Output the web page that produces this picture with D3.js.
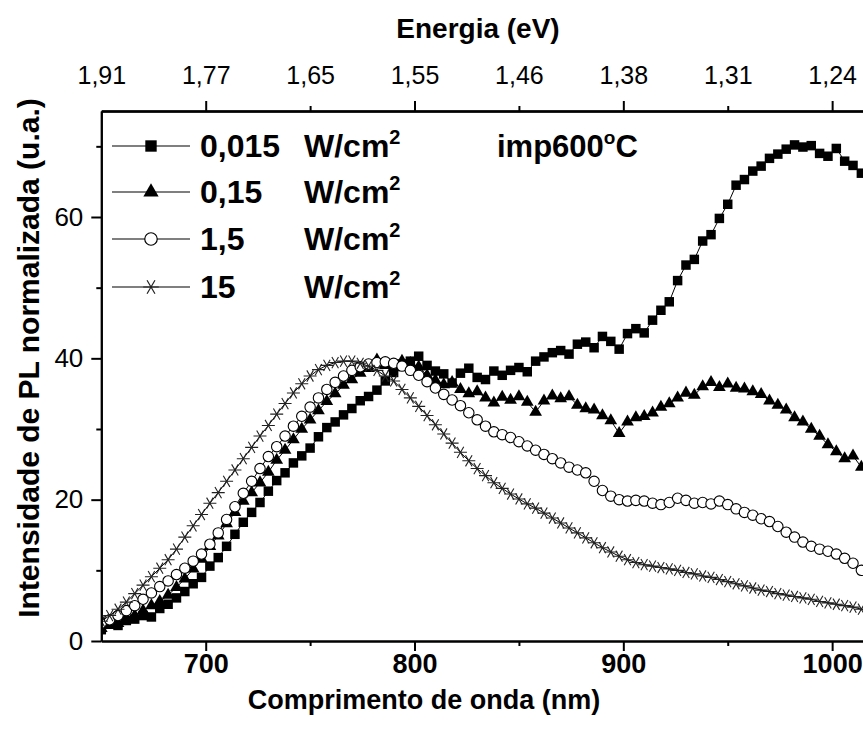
<!DOCTYPE html>
<html>
<head>
<meta charset="utf-8">
<script src="https://cdn.jsdelivr.net/npm/d3@7"></script>
<style>
body { margin: 0; background: #fff; }
svg { font-family: "Liberation Sans", Arial, sans-serif; }
.axis path, .axis line { stroke: #000; stroke-width: 2; }
.axis text { fill: #000; }
</style>
</head>
<body>
<svg width="863" height="734"></svg>
<script>
// comprimento de onda (nm)
const wl = [650,654,658,662,666,670,674,678,682,686,690,694,698,702,706,710,714,718,722,726,
  730,734,738,742,746,750,754,758,762,766,770,774,778,782,786,790,794,798,802,806,
  810,814,818,822,826,830,834,838,842,846,850,854,858,862,866,870,874,878,882,886,
  890,894,898,902,906,910,914,918,922,926,930,934,938,942,946,950,954,958,962,966,
  970,974,978,982,986,990,994,998,1002,1006,1010,1014,1018];

// 0,015 W/cm2 (quadrados)
const s0015 = [1.6,2.4,2.2,2.9,3.1,3.6,3.4,4.6,5.2,6.1,7.0,8.1,9.0,10.6,11.8,13.4,15.1,16.8,18.2,19.6,
  21.2,22.7,23.8,25.2,26.2,27.3,28.9,30.2,31.0,32.0,32.9,34.0,34.6,35.5,36.8,38.0,39.2,39.6,40.3,39.0,
  38.2,37.8,36.5,37.9,38.6,37.3,37.0,38.2,37.6,38.3,38.7,38.1,39.6,40.2,40.8,41.1,40.6,42.0,42.3,41.5,
  43.1,42.4,41.3,43.5,44.2,43.6,45.4,46.8,48.0,51.0,53.2,54.0,56.6,57.5,59.8,61.8,64.5,65.3,66.5,67.2,
  68.3,68.9,69.6,70.2,69.9,70.1,69.0,68.6,69.7,67.9,67.3,66.2,67.1];

// 0,15 W/cm2 (triangulos)
const s015 = [1.8,2.2,2.5,3.2,3.6,4.3,5.0,5.6,6.5,7.6,8.8,10.2,11.6,13.4,14.9,16.6,18.2,19.8,21.0,22.4,
  23.9,25.6,27.0,28.5,30.0,31.3,32.6,33.9,35.0,36.2,37.0,37.9,38.6,39.8,39.0,38.7,39.6,39.3,38.8,37.6,
  36.9,36.3,36.6,35.6,35.0,35.3,34.4,33.7,34.5,34.1,34.6,33.8,32.4,34.0,34.7,34.3,34.6,33.4,32.9,32.7,
  31.9,31.2,29.4,31.0,31.6,31.8,32.3,33.1,33.6,34.4,35.1,34.8,36.0,36.6,35.9,36.4,35.8,35.7,35.3,34.9,
  34.0,33.4,32.7,31.6,31.0,30.0,29.0,27.8,26.8,25.8,26.2,24.6,24.9];

// 1,5 W/cm2 (circulos)
const s15 = [2.5,3.0,3.6,4.3,5.0,5.9,6.8,7.7,8.5,9.4,10.3,11.3,12.3,13.7,15.3,17.2,19.0,20.9,22.6,24.4,
  26.1,27.5,29.0,30.4,31.8,33.1,34.4,35.6,36.6,37.5,38.3,38.8,39.2,39.4,39.5,39.3,38.9,38.3,37.6,36.7,
  35.8,34.9,34.1,33.3,32.3,31.3,30.4,29.6,29.2,28.8,28.2,27.6,27.0,26.4,25.8,25.2,24.6,24.2,23.8,22.6,
  21.3,20.5,20.0,19.8,19.9,19.8,19.5,19.3,19.6,20.2,19.9,19.5,19.6,19.4,19.8,19.3,18.7,18.2,17.8,17.3,
  16.9,16.2,15.4,14.7,14.0,13.4,13.0,12.7,12.3,11.7,11.0,10.0,9.3];

// 15 W/cm2 (estrelas)
const s150 = [2.8,3.6,4.5,5.5,6.7,7.9,9.1,10.3,11.5,13.0,14.7,16.3,17.9,19.5,21.0,22.6,24.2,25.8,27.4,29.0,
  30.5,32.1,33.6,35.1,36.4,37.5,38.4,39.0,39.4,39.6,39.6,39.3,38.9,38.3,37.5,36.8,35.6,34.4,33.2,31.9,
  30.6,29.3,28.0,26.7,25.5,24.4,23.4,22.4,21.6,20.8,20.1,19.4,18.8,18.1,17.4,16.7,16.0,15.3,14.6,13.9,
  13.2,12.6,12.0,11.5,11.1,10.8,10.6,10.4,10.2,10.0,9.7,9.5,9.2,9.0,8.7,8.4,8.1,7.8,7.5,7.2,
  7.0,6.7,6.5,6.3,6.1,5.9,5.6,5.4,5.2,5.0,4.8,4.5,4.3];

const legendValues = ["0,015", "0,15", "1,5", "15"];
const xMajor = [700, 800, 900, 1000];
const xMinor = [750, 850, 950];
const yMajor = [0, 20, 40, 60];
const yMinor = [10, 30, 50, 70];
const topNm = [650, 700, 750, 800, 850, 900, 950, 1000];
const topLabels = ["1,91", "1,77", "1,65", "1,55", "1,46", "1,38", "1,31", "1,24"];

const svg = d3.select("svg");
const x = d3.scaleLinear().domain([650, 1020]).range([101.3, 873.9]);
const y = d3.scaleLinear().domain([0, 75]).range([641, 111]);

// marcadores
const starPath = "M-6.5,0L6.5,0M-3.3,-5.6L3.3,5.6M-3.3,5.6L3.3,-5.6";
const series = [
  {vals: s0015, sym: d3.symbol(d3.symbolSquare, 90)(), fill: "#000", stroke: "none"},
  {vals: s015, sym: d3.symbol(d3.symbolTriangle, 70)(), fill: "#000", stroke: "none"},
  {vals: s15, sym: d3.symbol(d3.symbolCircle, 85)(), fill: "#fff", stroke: "#000"},
  {vals: s150, sym: starPath, fill: "none", stroke: "#222"}
];

svg.append("clipPath").attr("id", "plot")
  .append("rect").attr("x", 101).attr("y", 111).attr("width", 780).attr("height", 540);

const plot = svg.append("g").attr("clip-path", "url(#plot)");

const line = d3.line().x((d, i) => x(wl[i])).y(d => y(d));

series.forEach(s => {
  plot.append("path")
    .attr("d", line(s.vals))
    .attr("fill", "none")
    .attr("stroke", "#000")
    .attr("stroke-width", 1);
  plot.append("g").selectAll("path")
    .data(s.vals)
    .enter()
    .append("path")
    .attr("transform", (d, i) => `translate(${x(wl[i])},${y(d)})`)
    .attr("d", s.sym)
    .attr("fill", s.fill)
    .attr("stroke", s.stroke)
    .attr("stroke-width", 1.1);
});

// eixos
svg.append("g").attr("class", "axis").attr("transform", "translate(0,641)")
  .call(d3.axisBottom(x).tickValues(xMajor).tickSize(10).tickPadding(3).tickSizeOuter(0)
    .tickFormat(d3.format("d")))
  .call(g => g.selectAll("text").attr("font-size", 27).attr("font-weight", "bold"));
svg.append("g").attr("class", "axis").attr("transform", "translate(0,641)")
  .call(d3.axisBottom(x).tickValues(xMinor).tickSize(5).tickFormat("").tickSizeOuter(0));

svg.append("g").attr("class", "axis").attr("transform", "translate(101.3,0)")
  .call(d3.axisLeft(y).tickValues(yMajor).tickSize(10).tickPadding(8).tickSizeOuter(0))
  .call(g => g.selectAll("text").attr("font-size", 26));
svg.append("g").attr("class", "axis").attr("transform", "translate(101.3,0)")
  .call(d3.axisLeft(y).tickValues(yMinor).tickSize(5).tickFormat("").tickSizeOuter(0));

svg.append("g").attr("class", "axis").attr("transform", "translate(0,111)")
  .call(d3.axisTop(x).tickValues(topNm).tickSize(0).tickPadding(27).tickSizeOuter(0)
    .tickFormat((d, i) => topLabels[i]))
  .call(g => g.selectAll("text").attr("font-size", 25));
svg.append("g").attr("class", "axis").attr("transform", "translate(0,111)")
  .call(d3.axisTop(x).tickValues(xMajor).tickSize(10).tickFormat("").tickSizeOuter(0));
svg.append("g").attr("class", "axis").attr("transform", "translate(0,111)")
  .call(d3.axisTop(x).tickValues(xMinor).tickSize(5).tickFormat("").tickSizeOuter(0));

// titulos
svg.append("text").attr("x", 478).attr("y", 38).attr("text-anchor", "middle")
  .attr("font-size", 28).attr("font-weight", "bold").text("Energia (eV)");
svg.append("text").attr("x", 424).attr("y", 709).attr("text-anchor", "middle")
  .attr("font-size", 27).attr("font-weight", "bold").text("Comprimento de onda (nm)");
svg.append("text").attr("transform", "translate(39,358) rotate(-90)").attr("text-anchor", "middle")
  .attr("font-size", 30).attr("font-weight", "bold").text("Intensidade de PL normalizada (u.a.)");

// legenda
const rowY = [146, 192, 239, 287];
const leg = svg.append("g").selectAll("g")
  .data(series)
  .enter()
  .append("g")
  .attr("transform", (d, i) => `translate(0,${rowY[i]})`);

leg.append("line").attr("x1", 112).attr("x2", 190).attr("stroke", "#000").attr("stroke-width", 1.2);
leg.append("path")
  .attr("transform", "translate(151,0) scale(1.2)")
  .attr("d", d => d.sym)
  .attr("fill", d => d.fill)
  .attr("stroke", d => d.stroke)
  .attr("stroke-width", 1);
leg.append("text").attr("x", 200).attr("y", 11)
  .attr("font-size", 32).attr("font-weight", "bold")
  .text((d, i) => legendValues[i]);
const unit = leg.append("text").attr("x", 304).attr("y", 11)
  .attr("font-size", 32).attr("font-weight", "bold");
unit.append("tspan").text("W/cm");
unit.append("tspan").attr("dy", -13).attr("font-size", 20).text("2");

const note = svg.append("text").attr("x", 497).attr("y", 157)
  .attr("font-size", 31).attr("font-weight", "bold");
note.append("tspan").text("imp600");
note.append("tspan").attr("dy", -13).attr("font-size", 19).text("o");
note.append("tspan").attr("dy", 13).text("C");
</script>
</body>
</html>
